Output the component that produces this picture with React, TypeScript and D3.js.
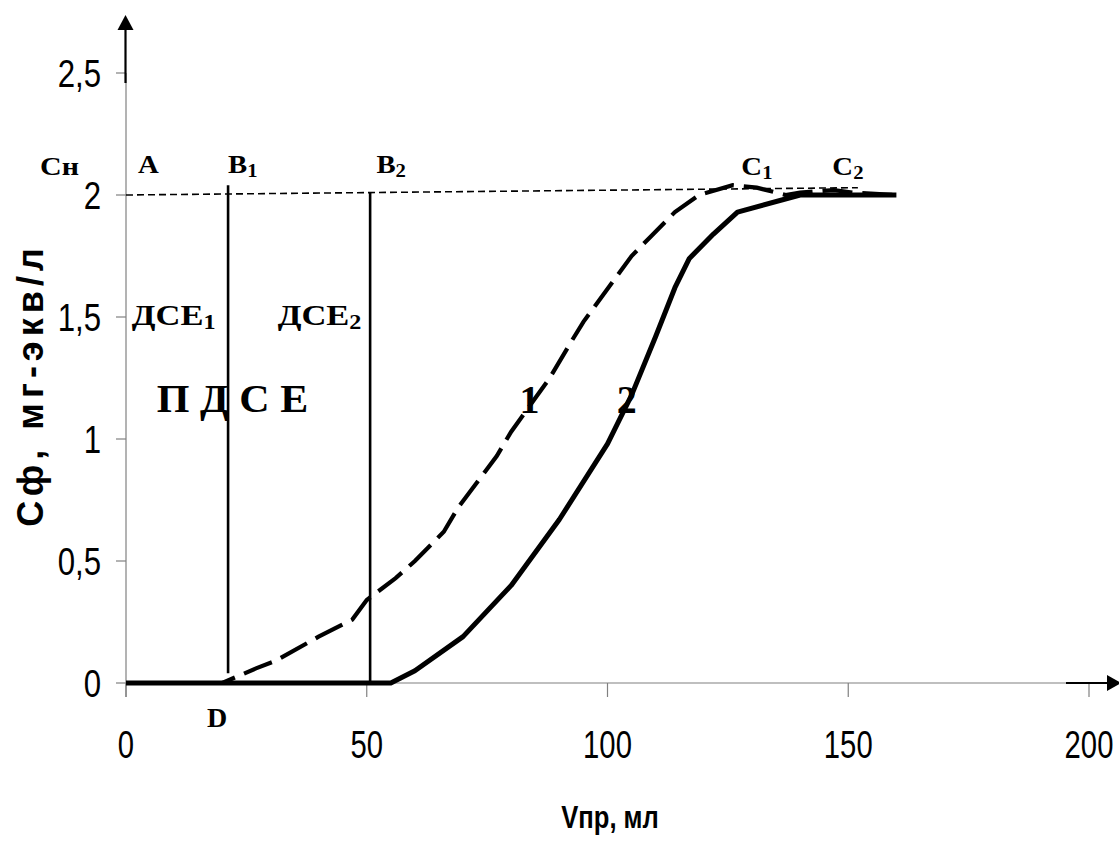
import React from 'react';
import * as d3 from 'd3';

// data
const xTicks = [0, 50, 100, 150, 200];
const yTicks = [0, 0.5, 1, 1.5, 2, 2.5];
const yTickLabels = ['0', '0,5', '1', '1,5', '2', '2,5'];

// curve 1 (dashed)
const curve1: [number, number][] = [
  [0, 0], [20, 0], [27, 0.06], [31, 0.09], [40, 0.19], [47, 0.26], [50, 0.34],
  [56, 0.43], [60, 0.5], [66, 0.62], [69, 0.72], [77, 0.93], [80, 1.03],
  [88, 1.25], [92.5, 1.4], [95, 1.48], [105, 1.75], [109, 1.83], [114, 1.93],
  [119, 2.0], [126, 2.04], [131, 2.03], [137, 2.0], [140, 2.01], [147, 2.02],
  [151, 2.01], [160, 2.0],
];

// curve 2 (solid)
const curve2: [number, number][] = [
  [0, 0], [55, 0], [60, 0.05], [70, 0.19], [80, 0.4], [90, 0.67], [100, 0.98],
  [105, 1.18], [110, 1.42], [114, 1.62], [117, 1.74], [122, 1.84], [127, 1.93],
  [140, 2.0], [160, 2.0],
];

// Сн level (dashed thin)
const saturation: [number, number][] = [[0, 2.0], [152, 2.03]];

// breakthrough verticals B1, B2
const verticals = [
  { x: 21.2, y0: 0.04, y1: 2.04 },
  { x: 50.7, y0: 0, y1: 2.01 },
];

const W = 1119;
const H = 844;

const x = d3.scaleLinear().domain([0, 200]).range([126, 1089]);
const y = d3.scaleLinear().domain([0, 2.5]).range([683, 73]);

const serif = '"Liberation Serif", "Times New Roman", serif';
const sans = '"Liberation Sans", Arial, sans-serif';

const Label = ({ px, py, size, sub, subSize, sx = 1, children }: any) => (
  <g transform={`translate(${px},${py}) scale(${sx},1)`}>
    <text fontFamily={serif} fontWeight="bold" fontSize={size} fill="#000">
      {children}
      {sub && (
        <tspan fontSize={subSize || size * 0.66} dy={4}>{sub}</tspan>
      )}
    </text>
  </g>
);

export default function App() {
  const line = d3.line<[number, number]>()
    .x(d => x(d[0]))
    .y(d => y(d[1]));

  return (
    <svg width={W} height={H} style={{ position: 'absolute', left: 0, top: 0, background: '#fff' }}>
      {/* axes */}
      <line x1={x(0)} x2={x(0)} y1={y(2.5)} y2={697} stroke="#808080" strokeWidth={1.2} />
      <line x1={x(0)} x2={1066} y1={y(0)} y2={y(0)} stroke="#808080" strokeWidth={1.2} />
      {yTicks.map(t => (
        <line key={'yt' + t} x1={116} x2={x(0)} y1={y(t)} y2={y(t)} stroke="#808080" strokeWidth={1.2} />
      ))}
      {xTicks.map(t => (
        <line key={'xt' + t} x1={x(t)} x2={x(t)} y1={y(0)} y2={697} stroke="#808080" strokeWidth={1.2} />
      ))}

      {/* arrows */}
      <line x1={x(0) - 0.5} x2={x(0) - 0.5} y1={y(2.5) + 10} y2={28} stroke="#000" strokeWidth={2.2} />
      <path d={`M${x(0) - 0.5},15 L${x(0) - 8.5},30 L${x(0) + 7.5},30 Z`} fill="#000" />
      <line x1={1066} x2={1108} y1={y(0)} y2={y(0)} stroke="#000" strokeWidth={2.2} />
      <path d={`M1121,${y(0)} L1107,${y(0) - 8} L1107,${y(0) + 8} Z`} fill="#000" />

      {/* tick labels */}
      {yTicks.map((t, i) => (
        <g key={'yl' + t} transform={`translate(101,${y(t) + 14}) scale(0.8,1)`}>
          <text textAnchor="end" fontFamily={sans} fontSize={39} fill="#000">{yTickLabels[i]}</text>
        </g>
      ))}
      {xTicks.map(t => (
        <g key={'xl' + t} transform={`translate(${x(t)},${758}) scale(0.75,1)`}>
          <text textAnchor="middle" fontFamily={sans} fontSize={39} fill="#000">{t}</text>
        </g>
      ))}

      {/* axis titles */}
      <g transform="translate(610,828) scale(0.8,1)">
        <text textAnchor="middle" fontFamily={sans} fontWeight="bold" fontSize={32} fill="#000">Vпр, мл</text>
      </g>
      <g transform="translate(43,385) rotate(-90)">
        <text textAnchor="middle" fontFamily={sans} fontWeight="bold" fontSize={36} letterSpacing={5} fill="#000">Сф, мг-экв/л</text>
      </g>

      {/* Сн level */}
      <path d={line(saturation) || ''} fill="none" stroke="#000" strokeWidth={1.6} strokeDasharray="7,4" />

      {/* B1, B2 */}
      {verticals.map((v, i) => (
        <line key={'v' + i} x1={x(v.x)} x2={x(v.x)} y1={y(v.y0)} y2={y(v.y1)} stroke="#000" strokeWidth={2.6} />
      ))}

      {/* curves */}
      <path d={line(curve2) || ''} fill="none" stroke="#000" strokeWidth={5} strokeLinejoin="round" />
      <path d={line(curve1) || ''} fill="none" stroke="#000" strokeWidth={4.2} strokeDasharray="30,10" />

      {/* annotations */}
      <Label px={40} py={175} size={25} sx={1.2}>Сн</Label>
      <Label px={x(2.5)} py={y(2.09)} size={25} sx={1.15}>A</Label>
      <Label px={x(21.2)} py={y(2.09)} size={25} sx={1.15} sub="1" subSize={18}>B</Label>
      <Label px={x(52)} py={y(2.09)} size={25} sx={1.15} sub="2" subSize={18}>B</Label>
      <Label px={x(127.8)} py={y(2.08)} size={25} sx={1.15} sub="1" subSize={18}>C</Label>
      <Label px={x(146.7)} py={y(2.08)} size={25} sx={1.15} sub="2" subSize={18}>C</Label>
      <Label px={x(1.2)} py={y(1.467)} size={30} sx={1.15} sub="1" subSize={21}>ДСЕ</Label>
      <Label px={x(31.5)} py={y(1.467)} size={30} sx={1.15} sub="2" subSize={21}>ДСЕ</Label>
      <Label px={x(6.4)} py={y(1.11)} size={40} sx={1.05}>П Д С Е</Label>
      <Label px={x(81.7)} py={y(1.107)} size={40}>1</Label>
      <Label px={x(101.9)} py={y(1.107)} size={40}>2</Label>
      <Label px={x(16.8)} py={y(-0.18)} size={28}>D</Label>
    </svg>
  );
}
